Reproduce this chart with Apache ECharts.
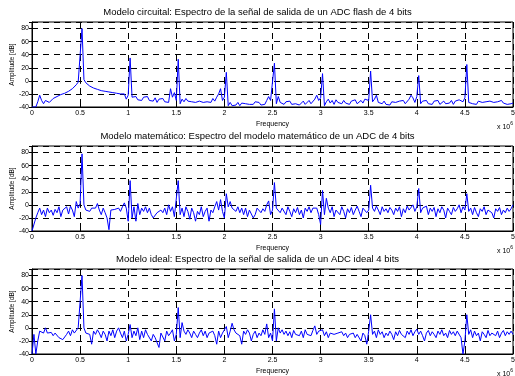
<!DOCTYPE html>
<html>
<head>
<meta charset="utf-8">
<script src="https://cdn.jsdelivr.net/npm/echarts@6/dist/echarts.min.js"></script>
<style>
html, body { margin: 0; padding: 0; background: #fff; }
#chart { width: 515px; height: 376px; }
</style>
</head>
<body>
<div id="chart"></div>
<script>
var titles = [
    'Modelo circuital: Espectro de la señal de salida de un ADC flash de 4 bits',
    'Modelo matemático: Espectro del modelo matemático de un ADC de 4 bits',
    'Modelo ideal: Espectro de la señal de salida de un ADC ideal 4 bits'
];
var freqStep = 0.02;   // x 10^6 Hz, bin spacing
var yMin = -40, yMax = 90, yStep = 20;
var xMin = 0, xMax = 5, xStep = 0.5;

// amplitudes [dB], one per bin (0 .. 5 x 10^6)
var circuital = [
    -40, -40, -40, -32, -22, -30, -35, -30, -28, -33,
    -35, -27, -25, -24, -23, -21, -20, -19, -18, -16,
    -14, -12, -9, -6, -2, 1, 80, 2, -3, -6,
    -8, -10, -11, -12, -13, -14, -15, -15, -16, -17,
    -17, -18, -18, -19, -19, -20, -20, -21, -20, -28,
    -22, 35, -25, -28, -24, -29, -26, -30, -25, -28,
    -24, -30, -27, -31, -26, -33, -28, -30, -27, -32,
    -29, -33, -12, -25, -18, -30, 33, -35, -28, -32,
    -27, -31, -28, -32, -29, -33, -30, -31, -28, -33,
    -30, -32, -29, -33, -27, -31, -25, -20, -12, -30,
    -25, 13, -38, -33, -38, -35, -37, -33, -38, -34,
    -37, -35, -32, -36, -33, -36, -32, -35, -33, -37,
    -34, -36, -30, -24, -30, -28, 27, -35, -24, -33,
    -30, -36, -32, -35, -31, -36, -33, -35, -32, -37,
    -34, -31, -36, -33, -30, -35, -32, -28, -22, -30,
    -26, 11, -38, -32, -28, -34, -30, -36, -29, -33,
    -31, -35, -30, -34, -32, -36, -31, -33, -29, -35,
    -32, -30, -34, -28, -25, -30, 15, -32, -28, -22,
    -33, -30, -35, -31, -36, -34, -37, -32, -35, -33,
    -36, -31, -34, -30, -35, -32, -28, -22, -26, -33,
    -24, 8, -35, -31, -34, -30, -35, -32, -36, -31,
    -34, -30, -36, -33, -31, -35, -32, -34, -30, -36,
    -31, -33, -29, -28, -32, -26, 25, -33, -30, -35,
    -32, -36, -31, -34, -33, -36, -32, -35, -31, -34,
    -33, -36, -32, -35, -30, -34, -31, -36, -33, -35,
    -34
];
var matematico = [
    -40, -40, -20, -12, -5, -15, -8, -18, -5, -12,
    -8, -16, -7, -12, -3, -18, -8, -10, -3, -14,
    -2, -8, -18, 5, -5, 2, 78, 0, -8, -5,
    -10, -5, -8, -5, 2, -8, -15, -5, -12, -20,
    -38, -8, -10, -7, -8, -5, -10, -3, 3, -5,
    -25, 37, -20, -3, -25, 2, -15, -5, -10, -3,
    -12, -5, -15, -20, -18, -12, -15, -8, -12, -5,
    -15, 0, -10, -3, -18, -20, 37, -15, -5, -18,
    -3, -10, -22, -5, -12, -25, -10, -15, -3, -18,
    -10, -5, -25, -8, -12, -3, 5, -8, 8, -10,
    -20, 17, -3, 5, -5, -2, -10, -3, -12, -5,
    -15, -5, -18, -8, -10, -20, -15, -5, -8, -12,
    -6, -10, 0, 6, -15, -8, 34, -5, -2, -12,
    -5, -8, -15, -3, -10, -18, -6, -12, -4, -15,
    -8, -20, -5, -10, -3, -12, -5, -2, -5, -15,
    -30, 22, -15, 10, -5, -12, -3, -18, -8, -5,
    -15, -3, -10, -20, -6, -12, -4, -15, -8, -2,
    -10, -18, -5, -3, -12, -8, 30, -5, -10, -2,
    -8, -15, -3, -10, -6, -12, -4, -8, -15, -5,
    -10, -3, -18, -6, -12, -2, -8, -5, 0, -10,
    -3, 25, -12, -5, -8, -2, -15, -5, -10, -4,
    -18, -6, -12, -3, -8, -20, -5, -10, -15, -4,
    -10, -6, 0, -12, -3, -8, 17, -10, -5, -15,
    -4, -12, -18, -6, -10, -3, -15, -8, -5, -12,
    -20, -6, -10, -4, -15, -8, -12, -5, -10, -6,
    0
];
var ideal = [
    -40, -10, -40, -20, -5, -3, -8, 0, -8, -10,
    -7, -12, -8, -10, -15, -12, -18, -15, -10, -5,
    -12, -3, -8, -5, 0, 2, 80, 0, -8, -5,
    -10, -25, -5, -10, -3, -8, -15, -5, -10, -20,
    -5, -12, -3, -15, -5, 0, -8, -15, -5, -20,
    -10, 5, -15, -5, -12, 0, -18, -5, -15, -3,
    -10, -8, -20, -10, -15, -12, -30, -8, -10, -20,
    -5, -12, -8, -3, -20, -10, 31, -15, 8, -5,
    -10, -3, -8, -15, -5, -10, -15, -8, -3, -12,
    -5, -15, -8, -10, -5, -12, -25, -5, -15, -8,
    -10, 2, -15, -5, 7, -3, -8, -5, -12, -25,
    -5, -10, -3, -8, -20, -10, -5, -15, -8, -12,
    -3, -10, 6, -15, -8, -20, 29, -20, 0, -8,
    -3, -10, -5, -12, -6, -15, -4, -10, -8, -12,
    -5, -15, -3, -10, -8, -12, -4, 3, -10, -5,
    -8, -3, -12, -6, -15, -8, -5, -10, -12, -8,
    -10, -6, -12, -8, -15, -10, -12, -8, -15, -10,
    -12, -20, -8, -12, -25, -5, 20, -10, -5, -15,
    -3, -10, -6, -15, -8, -12, -5, -10, -18, -6,
    -12, -4, -10, -8, -15, -5, -10, -3, -12, -6,
    -2, -10, -5, -12, -20, -8, -4, -12, -6, -10,
    -15, -5, -10, -3, -12, -8, -15, -4, -10, -6,
    -12, -5, -5, -15, -40, -20, 20, -10, -3, -15,
    -5, -12, -8, -20, -6, -10, -15, -4, -12, -8,
    -6, -12, -5, -15, -8, -4, -12, -6, -10, -5,
    -10
];
var seriesList = [circuital, matematico, ideal];

var gridTops = [22, 146, 269];
var plotLeft = 32, plotWidth = 481, plotHeight = 85;
var fontFamily = '"Liberation Sans", Arial, sans-serif';
var gridDash = { color: '#000', type: [6, 5], width: 1 };

function toPairs(values) {
    return values.map(function (v, i) {
        return [+(i * freqStep).toFixed(2), v];
    });
}

var grids = [], xAxes = [], yAxes = [], series = [], graphics = [];
for (var k = 0; k < 3; k++) {
    grids.push({
        left: plotLeft, top: gridTops[k], width: plotWidth, height: plotHeight,
        outerBoundsMode: 'none', containLabel: false,
        show: true, borderColor: '#000', borderWidth: 1, backgroundColor: '#fff'
    });
    xAxes.push({
        gridIndex: k, type: 'value', min: xMin, max: xMax, interval: xStep,
        name: 'Frequency', nameLocation: 'middle', nameGap: 14, nameMoveOverlap: false,
        nameTextStyle: { fontSize: 7, color: '#000', fontFamily: fontFamily },
        axisLine: { onZero: false, lineStyle: { color: '#000', width: 1 } },
        axisTick: { inside: true, length: 3, lineStyle: { color: '#000' } },
        axisLabel: { fontSize: 7, color: '#000', margin: 3, fontFamily: fontFamily },
        splitLine: { show: true, lineStyle: gridDash }
    });
    yAxes.push({
        gridIndex: k, type: 'value', min: yMin, max: yMax, interval: yStep,
        axisLine: { lineStyle: { color: '#000', width: 1 } },
        axisTick: { inside: true, length: 3, lineStyle: { color: '#000' } },
        axisLabel: { fontSize: 7, color: '#000', margin: 3, showMaxLabel: false, fontFamily: fontFamily },
        splitLine: { show: true, lineStyle: gridDash }
    });
    series.push({
        type: 'line', xAxisIndex: k, yAxisIndex: k,
        data: toPairs(seriesList[k]),
        showSymbol: false, animation: false,
        lineStyle: { color: '#0000ff', width: 1 }
    });
    graphics.push({
        type: 'text', left: 'center', top: gridTops[k] - 15,
        style: { text: titles[k], x: 0, y: 0, font: '9.5px ' + fontFamily, fill: '#000' }
    });
    // y-axis title, rotated
    graphics.push({
        type: 'text', x: 12, y: gridTops[k] + plotHeight / 2, rotation: Math.PI / 2,
        style: {
            text: 'Amplitude [dB]', font: '6.5px ' + fontFamily, fill: '#000',
            align: 'center', verticalAlign: 'middle'
        }
    });
    graphics.push({
        type: 'text', right: 2, top: gridTops[k] + plotHeight + 14,
        style: {
            text: '{a|x 10}{b|6}',
            rich: {
                a: { fontSize: 7, fontFamily: fontFamily, fill: '#000', verticalAlign: 'bottom' },
                b: { fontSize: 5, fontFamily: fontFamily, fill: '#000', verticalAlign: 'top', padding: [0, 0, 5, 0] }
            }
        }
    });
}
// box ticks on top and right, as in the original figure
for (var k = 0; k < 3; k++) {
    xAxes.push({
        gridIndex: k, type: 'value', position: 'top', min: xMin, max: xMax, interval: xStep,
        axisLine: { show: false },
        axisTick: { inside: true, length: 3, lineStyle: { color: '#000' } },
        axisLabel: { show: false }, splitLine: { show: false }
    });
    yAxes.push({
        gridIndex: k, type: 'value', position: 'right', min: yMin, max: yMax, interval: yStep,
        axisLine: { show: false },
        axisTick: { inside: true, length: 3, lineStyle: { color: '#000' } },
        axisLabel: { show: false }, splitLine: { show: false }
    });
}

var myChart = echarts.init(document.getElementById('chart'));
myChart.setOption({
    backgroundColor: '#fff',
    animation: false,
    grid: grids,
    xAxis: xAxes,
    yAxis: yAxes,
    series: series,
    graphic: graphics
});
</script>
</body>
</html>
